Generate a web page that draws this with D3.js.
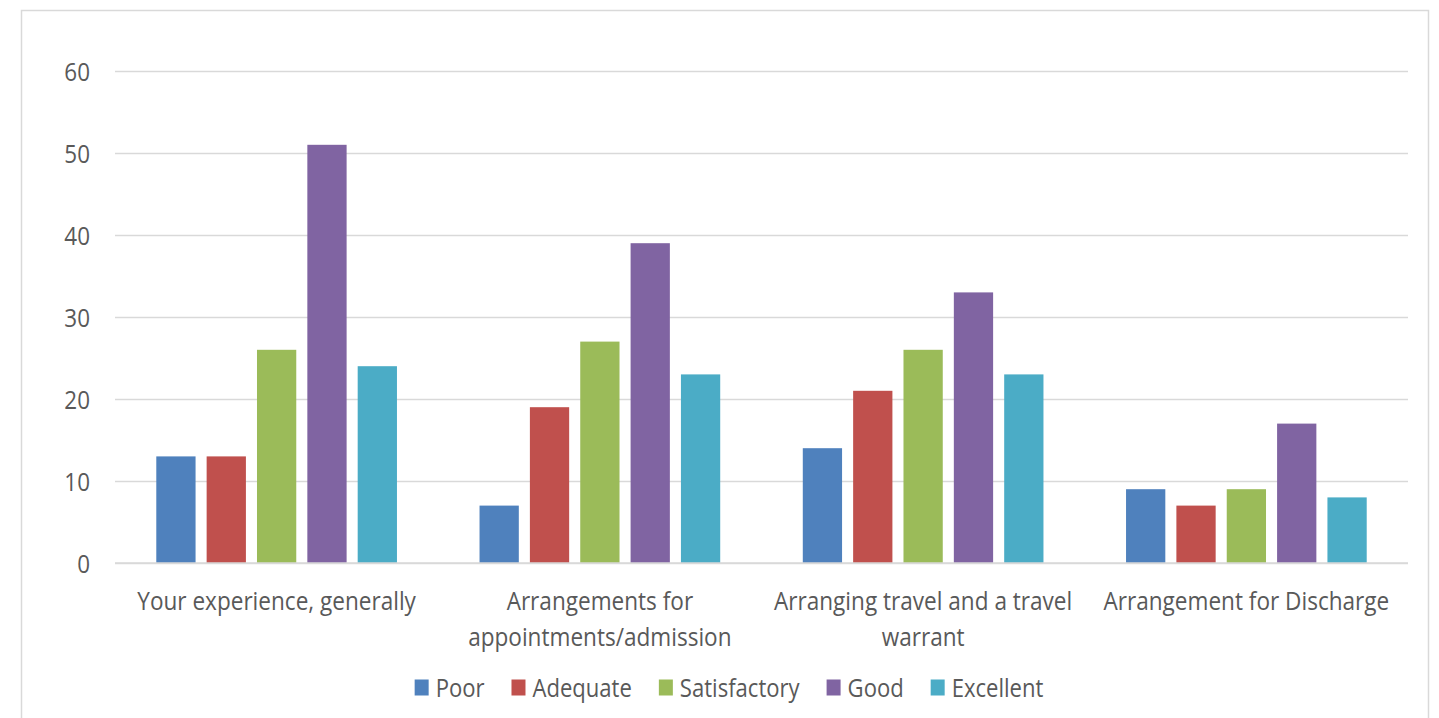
<!DOCTYPE html>
<html><head><meta charset="utf-8">
<script src="https://cdn.jsdelivr.net/npm/d3@7"></script>
<style>body{margin:0;background:#fff;} text{font-family:"Open Sans",sans-serif;}</style>
</head><body>
<svg id="c" width="1439" height="718"></svg>
<script>
const categories = [["Your experience, generally"],["Arrangements for","appointments/admission"],["Arranging travel and a travel","warrant"],["Arrangement for Discharge"]];
const series = ["Poor","Adequate","Satisfactory","Good","Excellent"];
const colors = ["#4F81BD","#C0504D","#9BBB59","#8064A2","#4BACC6"];
const poor = [13,7,14,9];
const adequate = [13,19,21,7];
const satisfactory = [26,27,26,9];
const good = [51,39,33,17];
const excellent = [24,23,23,8];
const yTicks = [0,10,20,30,40,50,60];
const values = [poor,adequate,satisfactory,good,excellent];

const FS = 25.5;
function squeeze(sel, f){
  sel.each(function(){
    const n=this; const w=n.getComputedTextLength();
    d3.select(n).attr("textLength",w*f).attr("lengthAdjust","spacingAndGlyphs");
  });
}

const svg = d3.select("#c");
svg.append("rect").attr("x",21.5).attr("y",10.5).attr("width",1407).attr("height",720).attr("fill","#fff").attr("stroke","#d9d9d9").attr("stroke-width",1.5);

const pL=115,pR=1408,pT=71,pB=563;
const x0 = d3.scaleBand().domain(d3.range(categories.length)).range([pL,pR]).paddingInner(0).paddingOuter(0);
const x1 = d3.scaleBand().domain(series).range([0,x0.bandwidth()]).paddingInner(0.22).paddingOuter(0.82);
const y = d3.scaleLinear().domain([0,60]).range([pB,pT]);

const ga = svg.append("g").attr("transform",`translate(${pL},0)`)
  .call(d3.axisLeft(y).tickValues(yTicks).tickSize(-(pR-pL)).tickPadding(25));
ga.select(".domain").remove();
ga.selectAll(".tick line").attr("stroke","#d9d9d9").attr("stroke-width",1.5);
ga.selectAll(".tick text").attr("fill","#595959").attr("dy","0.36em").style("font-size",FS+"px").call(squeeze,0.88);

const groups = svg.append("g").selectAll("g").data(categories).join("g")
  .attr("transform",(d,i)=>`translate(${x0(i)},0)`);
groups.selectAll("rect").data((d,i)=>series.map((s,j)=>({s,v:values[j][i],c:colors[j]}))).join("rect")
  .attr("x",d=>x1(d.s)).attr("width",x1.bandwidth())
  .attr("y",d=>y(d.v)).attr("height",d=>y(0)-y(d.v)).attr("fill",d=>d.c);

svg.append("line").attr("x1",pL).attr("x2",pR).attr("y1",pB).attr("y2",pB).attr("stroke","#d9d9d9").attr("stroke-width",1.5);

groups.each(function(d,i){
  const g=d3.select(this);
  d.forEach((line,k)=>{
    g.append("text").attr("x",x0.bandwidth()/2).attr("y",610+k*36).attr("text-anchor","middle")
      .attr("fill","#595959").style("font-size",FS+"px").text(line).call(squeeze,0.885);
  });
});

const lg = svg.append("g");
let cx=0;
series.forEach((s,j)=>{
  const g=lg.append("g");
  g.append("rect").attr("x",0).attr("y",-8).attr("width",14).attr("height",16).attr("fill",colors[j]);
  const t=g.append("text").attr("x",21).attr("y",9).attr("fill","#595959").style("font-size",FS+"px").text(s).call(squeeze,0.865);
  const w=21+(+t.attr("textLength"));
  g.attr("transform",`translate(${cx},0)`);
  cx+=w+27;
});
const total=cx-27;
lg.attr("transform",`translate(${(412+1046)/2-total/2},687.5)`);
</script>
</body></html>
